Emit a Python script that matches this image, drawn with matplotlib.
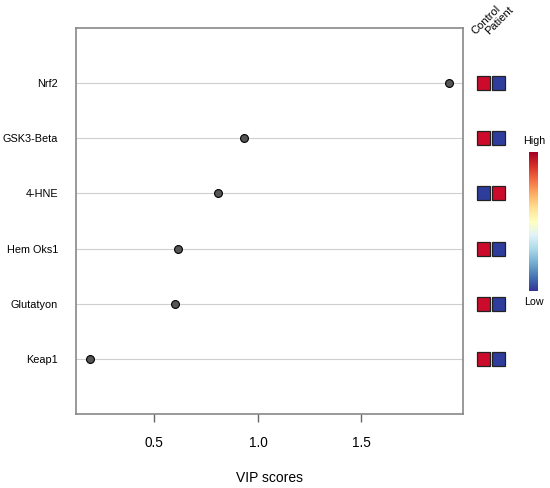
import matplotlib
matplotlib.use("Agg")
import matplotlib.pyplot as plt
import numpy as np
from matplotlib.patches import Rectangle

plt.rcParams['font.family'] = ['Liberation Sans', 'DejaVu Sans']

# VIP scores, top row first
features = ["Nrf2", "GSK3-Beta", "4-HNE", "Hem Oks1", "Glutatyon", "Keap1"]
vip_scores = [1.923, 0.933, 0.808, 0.615, 0.600, 0.190]
groups = ["Control", "Patient"]
# relative level per group (1 = high, 0 = low)
levels = [[1, 0], [1, 0], [0, 1], [1, 0], [1, 0], [1, 0]]

W, H = 550, 488
fig = plt.figure(figsize=(W / 100, H / 100), dpi=100)

def fbox(x0, y0, x1, y1):
    # pixel box -> figure fraction
    return [x0 / W, 1 - y1 / H, (x1 - x0) / W, (y1 - y0) / H]

ax = fig.add_axes(fbox(76, 28, 463, 414))
n = len(features)
ypos = np.arange(n, 0, -1)
for y in ypos:
    ax.axhline(y, color='#cfcfcf', lw=0.8, zorder=1)
ax.scatter(vip_scores, ypos, s=32, color='#555555', edgecolors='black',
           linewidths=0.8, zorder=3)
ax.set_xlim(0.122, 1.99)
ax.set_ylim(0, n + 1)
ax.set_xticks([0.5, 1.0, 1.5])
ax.set_xticklabels(["0.5", "1.0", "1.5"])
ax.set_yticks(ypos)
ax.set_yticklabels(features, fontsize=7.8)
ax.tick_params(axis='y', length=0, pad=13)
ax.tick_params(axis='x', length=6, width=1, color='#666666', pad=10, labelsize=9.8)
ax.set_xlabel("VIP scores", fontsize=10, labelpad=15)
for s in ax.spines.values():
    s.set_color('#888888')
    s.set_linewidth(1.2)

# heat squares
cmap = plt.get_cmap('RdYlBu_r')
red = '#cc0a2b'
blue = '#2e3c9c'
hx = fig.add_axes(fbox(476, 28, 506, 414))
hx.set_xlim(0, 2)
hx.set_ylim(0, n + 1)
hx.axis('off')
sq_h = 14 / (386 / (n + 1))
sq_w = 13.5 / 15
for i, y in enumerate(ypos):
    for j in range(len(groups)):
        c = red if levels[i][j] == 1 else blue
        hx.add_patch(Rectangle((j + (1 - sq_w) / 2, y - sq_h / 2), sq_w, sq_h,
                               facecolor=c, edgecolor='#222222', lw=0.9,
                               clip_on=False))
for j, g in enumerate(groups):
    fig.text((477 + j * 14) / W, 1 - 36 / H, g, rotation=45, rotation_mode='anchor',
             ha='left', va='bottom', fontsize=8)

# colour key
cx = fig.add_axes(fbox(529, 152, 538, 291))
grad = np.linspace(1, 0, 256).reshape(-1, 1)
cx.imshow(grad, aspect='auto', cmap=cmap)
cx.axis('off')
fig.text(534 / W, 1 - 141 / H, "High", ha='center', va='center', fontsize=7.7)
fig.text(534 / W, 1 - 302 / H, "Low", ha='center', va='center', fontsize=7.7)

fig.savefig("out.png", dpi=100)
